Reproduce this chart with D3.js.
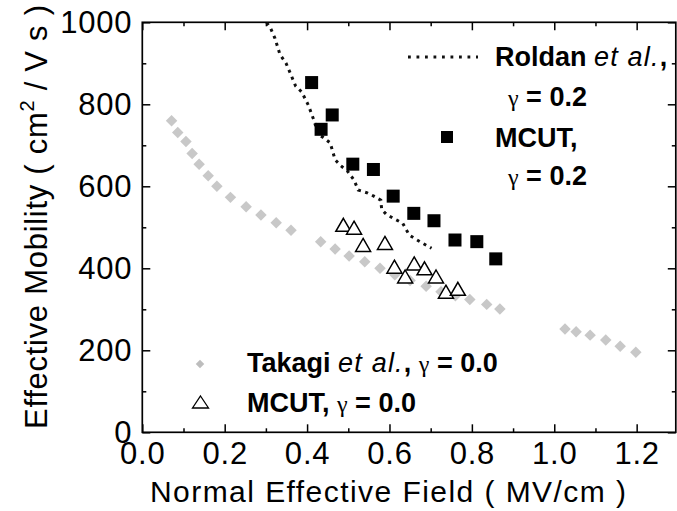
<!DOCTYPE html>
<html><head><meta charset="utf-8">
<script src="https://cdn.jsdelivr.net/npm/d3@7/dist/d3.min.js"></script>
<style>
html,body{margin:0;padding:0;background:#fff;}
svg{display:block;}
text{font-family:"Liberation Sans",Arial,sans-serif;fill:#000;}
</style></head>
<body>
<svg id="chart" width="677" height="511"></svg>
<script>
// ---- data ----
const takagiField = [0.071,0.086,0.106,0.121,0.138,0.160,0.181,0.214,0.252,0.288,0.325,0.361,0.433,0.468,0.502,0.540,0.577,0.613,0.650,0.689,0.725,0.760,0.795,0.836,0.868,1.026,1.053,1.087,1.125,1.160,1.198];
const takagiMobility = [760,731,709,680,654,626,600,573,550,530,511,493,465,447,430,416,400,384,370,356,343,333,324,312,301,252,245,237,225,210,195];

const mcut02Field = [0.411,0.434,0.461,0.511,0.561,0.609,0.659,0.708,0.759,0.812,0.858];
const mcut02Mobility = [853,739,774,654,641,576,534,516,469,465,423];

const mcut00Field = [0.488,0.514,0.536,0.589,0.612,0.638,0.660,0.685,0.713,0.737,0.766];
const mcut00Mobility = [506,499,457,462,404,380,412,400,380,343,350];

const roldanField = [0.302,0.312,0.322,0.334,0.349,0.360,0.372,0.387,0.403,0.417,0.427,0.438,0.456,0.468,0.482,0.498,0.514,0.524,0.546,0.562,0.579,0.581,0.592,0.609,0.632,0.648,0.664,0.681,0.702];
const roldanMobility = [999,984,961,922,900,874,845,830,798,760,726,720,706,665,650,637,615,591,584,576,566,544,532,522,510,481,471,461,449];

const xTicks = [0.0,0.2,0.4,0.6,0.8,1.0,1.2];
const xMinorTicks = [0.1,0.3,0.5,0.7,0.9,1.1];
const yTicks = [0,200,400,600,800,1000];
const yMinorTicks = [100,300,500,700,900];

// ---- layout ----
const L = 142.3, R = 675.8, T = 22.3, B = 432.3;
const svg = d3.select("#chart");
const x = d3.scaleLinear().domain([0,1.295]).range([L,R]);
const y = d3.scaleLinear().domain([0,1000]).range([B,T]);

svg.append("defs").append("clipPath").attr("id","clip")
  .append("rect").attr("x",L).attr("y",T).attr("width",R-L).attr("height",B-T);

function styleAxis(g){
  g.select(".domain").remove();
  g.selectAll("line").attr("stroke","#000").attr("stroke-width",1.5);
  g.selectAll("text").style("font-family",'"Liberation Sans",Arial,sans-serif')
    .style("font-size","31px").style("letter-spacing","0.8px").attr("fill","#000");
}
const fmtX = d3.format(".1f");
// bottom
svg.append("g").attr("transform",`translate(0,${B})`)
  .call(d3.axisBottom(x).tickValues(xTicks).tickFormat(fmtX).tickSizeInner(-8).tickSizeOuter(0).tickPadding(10)).call(styleAxis);
svg.append("g").attr("transform",`translate(0,${B})`)
  .call(d3.axisBottom(x).tickValues(xMinorTicks).tickFormat("").tickSizeInner(-4).tickSizeOuter(0)).call(styleAxis);
// top
svg.append("g").attr("transform",`translate(0,${T})`)
  .call(d3.axisTop(x).tickValues(xTicks).tickFormat("").tickSizeInner(-8).tickSizeOuter(0)).call(styleAxis);
svg.append("g").attr("transform",`translate(0,${T})`)
  .call(d3.axisTop(x).tickValues(xMinorTicks).tickFormat("").tickSizeInner(-4).tickSizeOuter(0)).call(styleAxis);
// left
svg.append("g").attr("transform",`translate(${L},0)`)
  .call(d3.axisLeft(y).tickValues(yTicks).tickFormat(d3.format("d")).tickSizeInner(-8).tickSizeOuter(0).tickPadding(10)).call(styleAxis);
svg.append("g").attr("transform",`translate(${L},0)`)
  .call(d3.axisLeft(y).tickValues(yMinorTicks).tickFormat("").tickSizeInner(-4).tickSizeOuter(0)).call(styleAxis);
// right
svg.append("g").attr("transform",`translate(${R},0)`)
  .call(d3.axisRight(y).tickValues(yTicks).tickFormat("").tickSizeInner(-8).tickSizeOuter(0)).call(styleAxis);
svg.append("g").attr("transform",`translate(${R},0)`)
  .call(d3.axisRight(y).tickValues(yMinorTicks).tickFormat("").tickSizeInner(-4).tickSizeOuter(0)).call(styleAxis);

svg.append("rect").attr("x",L).attr("y",T).attr("width",R-L).attr("height",B-T)
  .attr("fill","none").attr("stroke","#000").attr("stroke-width",1.7);

// ---- data marks ----
const plot = svg.append("g").attr("clip-path","url(#clip)");
const diamond = d3.symbol().type(d3.symbolSquare).size(66);
plot.selectAll(".tk").data(takagiField).join("path")
  .attr("d",diamond)
  .attr("transform",(d,i)=>`translate(${x(d)},${y(takagiMobility[i])}) rotate(45)`)
  .attr("fill","#c8c8c8");

const line = d3.line().x(d=>x(d[0])).y(d=>y(d[1]));
plot.append("path").datum(roldanField.map((d,i)=>[d,roldanMobility[i]]))
  .attr("d",line).attr("fill","none").attr("stroke","#111").attr("stroke-width",3)
  .attr("stroke-dasharray","3 4.5");

plot.selectAll(".sq").data(mcut02Field).join("rect")
  .attr("x",d=>x(d)-6.5).attr("y",(d,i)=>y(mcut02Mobility[i])-6.5)
  .attr("width",13).attr("height",13).attr("fill","#000");

function tri(cx,cy,w,h){return `M${cx},${cy-h/2}L${cx+w/2},${cy+h/2}L${cx-w/2},${cy+h/2}Z`;}
plot.selectAll(".tr").data(mcut00Field).join("path")
  .attr("d",(d,i)=>tri(x(d),y(mcut00Mobility[i]),15,13))
  .attr("fill","#fff").attr("stroke","#000").attr("stroke-width",1.5);

// ---- axis titles ----
svg.append("text").attr("x",(150+626)/2).attr("y",502).attr("text-anchor","middle")
  .attr("textLength",476).attr("lengthAdjust","spacing")
  .style("font-size","30px").text("Normal Effective Field ( MV/cm )");

const yt = svg.append("text").attr("transform","translate(47,217) rotate(-90)")
  .attr("text-anchor","middle").style("font-size","31px")
  .attr("textLength",424).attr("lengthAdjust","spacing");
yt.append("tspan").text("Effective Mobility ( cm");
yt.append("tspan").attr("dy",-13).style("font-size","20px").text("2");
yt.append("tspan").attr("dy",13).text(" / V s )");

// ---- legends ----
function gammaLine(xp, yp, val){
  const t = svg.append("text").attr("x",xp).attr("y",yp).style("font-size","27px");
  t.append("tspan").style("font-family","'Liberation Serif',serif").style("font-size","24px").text("γ");
  t.append("tspan").style("font-weight","bold").text(" = " + val);
  return t;
}
// top-right
svg.append("line").attr("x1",408).attr("x2",478).attr("y1",57).attr("y2",57)
  .attr("stroke","#111").attr("stroke-width",2.8).attr("stroke-dasharray","2.8 5.7");
const t1 = svg.append("text").attr("x",495).attr("y",66).style("font-size","27px");
t1.append("tspan").style("font-weight","bold").text("Roldan ");
t1.append("tspan").style("font-style","italic").style("letter-spacing","1.2px").text("et al.");
t1.append("tspan").style("font-weight","bold").text(",");
gammaLine(508,106,"0.2");
svg.append("rect").attr("x",441).attr("y",131).attr("width",12).attr("height",12).attr("fill","#000");
svg.append("text").attr("x",495).attr("y",147).style("font-size","27px").style("font-weight","bold").text("MCUT,");
gammaLine(508,185,"0.2");

// bottom-left
svg.append("path").attr("d",d3.symbol().type(d3.symbolSquare).size(36))
  .attr("transform","translate(200,364) rotate(45)").attr("fill","#bdbdbd");
const t2 = svg.append("text").attr("x",247).attr("y",372).style("font-size","27px");
t2.append("tspan").style("font-weight","bold").text("Takagi ");
t2.append("tspan").style("font-style","italic").style("letter-spacing","1.2px").text("et al.");
t2.append("tspan").style("font-weight","bold").text(", ");
t2.append("tspan").style("font-family","'Liberation Serif',serif").style("font-size","24px").text("γ");
t2.append("tspan").style("font-weight","bold").text(" = 0.0");
svg.append("path").attr("d",tri(200.5,402,16,12)).attr("fill","#fff").attr("stroke","#000").attr("stroke-width",1.3);
const t3 = svg.append("text").attr("x",247).attr("y",412).style("font-size","27px");
t3.append("tspan").style("font-weight","bold").text("MCUT, ");
t3.append("tspan").style("font-family","'Liberation Serif',serif").style("font-size","24px").text("γ");
t3.append("tspan").style("font-weight","bold").text(" = 0.0");
</script>
</body></html>
